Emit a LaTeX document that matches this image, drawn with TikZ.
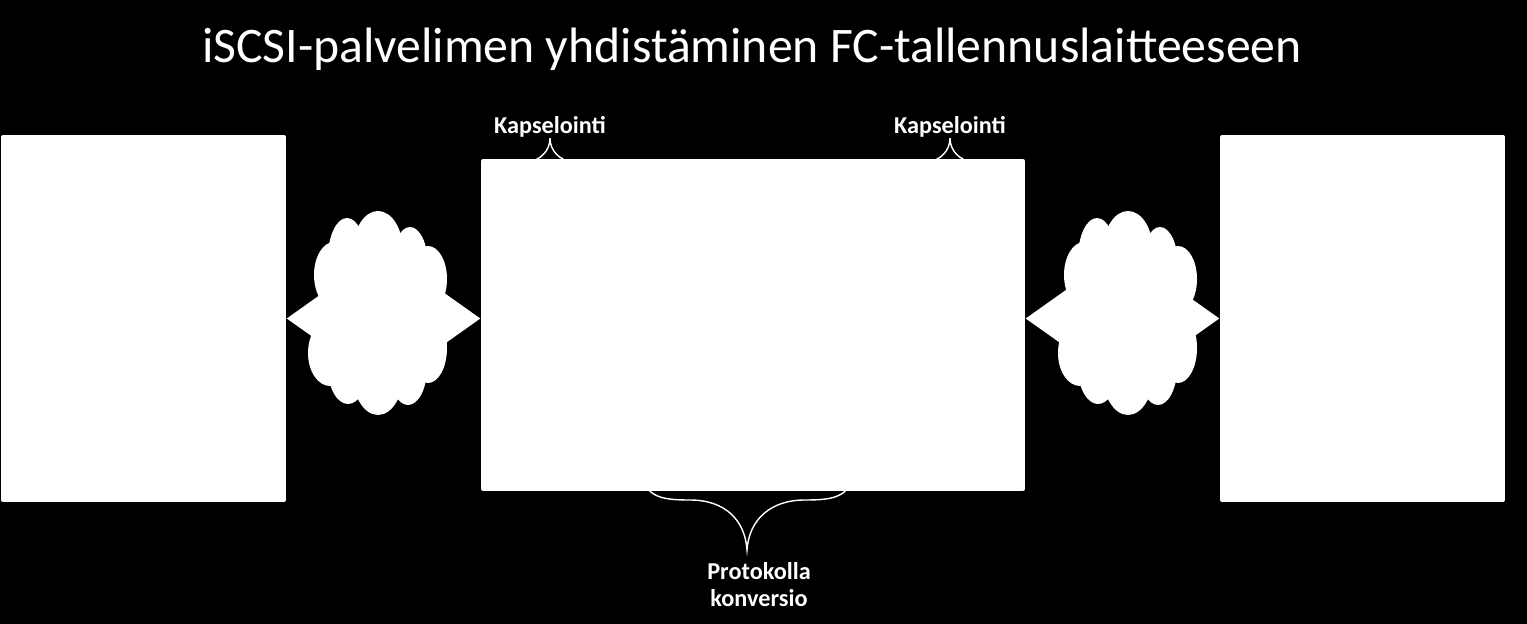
\documentclass[tikz,border=0pt]{standalone}
\usepackage{fontspec}
\setmainfont{Carlito}
\usetikzlibrary{arrows.meta}

\begin{document}
\begin{tikzpicture}[x=0.02cm,y=-0.02cm,
    box_node/.style={rectangle,fill=white,rounded corners=0.04cm,inner sep=0pt},
    link/.style={white,line width=0.44cm,{Triangle[width=1.2cm,length=0.9cm]}-{Triangle[width=1.2cm,length=0.9cm]}},
    brace_line/.style={white,line width=0.8pt},
    label_node/.style={text=white,font=\fontsize{13.8}{15.4}\selectfont\bfseries,inner sep=0pt}]

    \fill[black] (0,0) rectangle (1527,624);
    \useasboundingbox (0,0) rectangle (1527,624);

    \node[text=white,font=\fontsize{28.3}{32}\selectfont,anchor=base,inner sep=0pt] (title) at (752,63) {iSCSI-palvelimen yhdistäminen FC-tallennuslaitteeseen};

    \node[label_node,anchor=base] (k1) at (550,134) {Kapselointi};
    \node[label_node,anchor=base] (k2) at (950,134) {Kapselointi};
    \node[label_node,align=center,anchor=north] (pk) at (759,562) {Protokolla\\konversio};
    \coordinate (tip) at (747,550);

    % braces, partly hidden by the middle box
    \draw[brace_line] (k1.south) .. controls +(0,13) and +(12,-2) .. +(-22,24);
    \draw[brace_line] (k1.south) .. controls +(0,13) and +(-12,-2) .. +(22,24);
    \draw[brace_line] (k2.south) .. controls +(0,13) and +(12,-2) .. +(-22,24);
    \draw[brace_line] (k2.south) .. controls +(0,13) and +(-12,-2) .. +(22,24);
    \draw[brace_line] (640,470) .. controls (645,497) and (660,500) .. (690,500)
        .. controls (725,500) and (745,520) .. (tip)
        .. controls (749,520) and (770,500) .. (805,500)
        .. controls (835,500) and (850,497) .. (855,470);

    \node[box_node,minimum width=5.7cm,minimum height=7.34cm] (1) at (143.5,318.5) {};
    \node[box_node,minimum width=10.88cm,minimum height=6.64cm] (2) at (753,325) {};
    \node[box_node,minimum width=5.7cm,minimum height=7.34cm] (3) at (1362.5,318.5) {};

    \draw[link] (1.east) -- (2.west |- 1.east);
    \draw[link] (2.east |- 3.west) -- (3.west);

    % clouds
    \foreach \cx in {380,1130} {
        \begin{scope}[shift={(\cx,313)}]
            \foreach \ex/\ey/\rx/\ry in {-2/-62/25/40, -33/-55/19/40, 30/-48/18/38,
                    -46/-38/20/33, 48/-34/19/33, -50/40/22/33, 48/35/19/35,
                    -32/55/20/36, -2/58/26/44, 28/55/19/37, 0/0/62/60}
                \fill[white] (\ex,\ey) ellipse [x radius=\rx*0.02cm, y radius=\ry*0.02cm];
        \end{scope}
    }
\end{tikzpicture}
\end{document}
